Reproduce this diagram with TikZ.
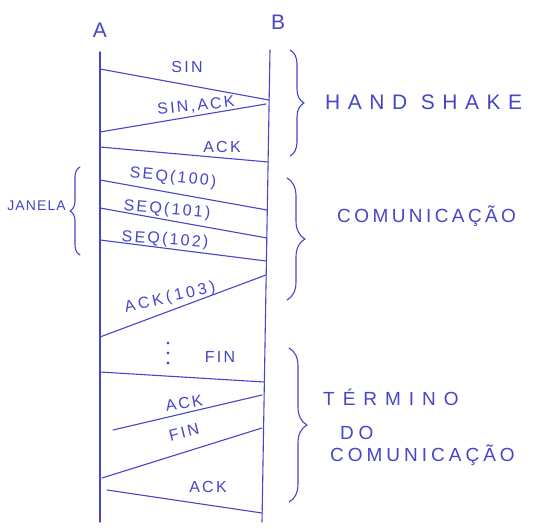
\documentclass[tikz,border=0pt]{standalone}
\usepackage{fontspec}
\setmainfont{Liberation Sans}
\usetikzlibrary{decorations.pathreplacing}
\definecolor{ink}{RGB}{70,70,200}
\tikzset{
  x=1pt, y=-1pt,
  ink/.style={draw=ink, line width=1.1pt, line cap=round, line join=round},
  msg/.style={ink},
  life/.style={ink},
  lbl/.style={text=ink, inner sep=0pt, font=\fontsize{16}{18}\selectfont\addfontfeatures{LetterSpace=14}},
  big/.style={text=ink, inner sep=0pt, anchor=west, font=\fontsize{19}{22}\selectfont\addfontfeatures{LetterSpace=#1}},
  rbrace/.style={ink, decorate, decoration={brace, amplitude=#1}},
}
\begin{document}
\begin{tikzpicture}
\useasboundingbox (0,0) rectangle (548,529);
\fill[white] (0,0) rectangle (548,529);
% participants
\node[text=ink, font=\fontsize{21}{23}\selectfont] (A) at (100,30) {A};
\node[text=ink, font=\fontsize{21}{23}\selectfont] (B) at (278,22) {B};
\coordinate (Atop) at (100,52);
\coordinate (Abot) at (100,522);
\coordinate (Btop) at (270,50);
\coordinate (Bbot) at (262,522);
\draw[life] (Atop) -- (Abot);
\draw[life] (Btop) -- (Bbot);
% handshake
\coordinate (a1) at (100,69);  \coordinate (b1) at (269,100);
\coordinate (b2) at (266,104); \coordinate (a2) at (100,132);
\coordinate (a3) at (100,147); \coordinate (b3) at (268,162);
\draw[msg] (a1) -- (b1);
\draw[msg] (b2) -- (a2);
\draw[msg] (a3) -- (b3);
\node[lbl] (l1) at (187,67) {SIN};
\node[lbl, rotate=6] (l2) at (196,106) {SIN,ACK};
\node[lbl] (l3) at (222,147) {ACK};
% data
\coordinate (a4) at (100,180); \coordinate (b4) at (267,210);
\coordinate (a5) at (100,208); \coordinate (b5) at (267,238);
\coordinate (a6) at (100,240); \coordinate (b6) at (266,261);
\coordinate (b7) at (266,275); \coordinate (a7) at (100,337);
\draw[msg] (a4) -- (b4);
\draw[msg] (a5) -- (b5);
\draw[msg] (a6) -- (b6);
\draw[msg] (b7) -- (a7);
\node[lbl, rotate=-6] (l4) at (173,178) {SEQ(100)};
\node[lbl, rotate=-5] (l5) at (167,210) {SEQ(101)};
\node[lbl, rotate=-4] (l6) at (165,240) {SEQ(102)};
\node[lbl, rotate=13, font=\fontsize{16}{18}\selectfont\addfontfeatures{LetterSpace=20}] (l7) at (170,298) {ACK(103)};
% dots
\foreach \yy in {343,353,363} \fill[ink] (168,\yy) circle (0.9);
% termination
\coordinate (a9) at (100,372);  \coordinate (b9) at (264,382);
\coordinate (b10) at (262,395); \coordinate (a10) at (113,430);
\coordinate (b11) at (262,428); \coordinate (a11) at (102,478);
\coordinate (a12) at (107,490); \coordinate (b12) at (262,513);
\draw[msg] (a9) -- (b9);
\draw[msg] (b10) -- (a10);
\draw[msg] (b11) -- (a11);
\draw[msg] (a12) -- (b12);
\node[lbl] (l9) at (220,357) {FIN};
\node[lbl, rotate=10] (l10) at (184,403) {ACK};
\node[lbl, rotate=14] (l11) at (184,432) {FIN};
\node[lbl] (l12) at (208,487) {ACK};
% braces
\draw[rbrace=14] (290,50) -- (290,156);
\draw[rbrace=18] (287,178) -- (287,300);
\draw[rbrace=10] (80,255) -- (80,167);
\draw[rbrace=18] (289,348) -- (289,502);
\node[big=32, font=\fontsize{21}{24}\selectfont\addfontfeatures{LetterSpace=36}] (hs) at (325,102) {HAND SHAKE};
\node[big=18] (co) at (337,216) {COMUNICAÇÃO};
\node[text=ink, inner sep=0pt, anchor=east, font=\fontsize{14}{16}\selectfont\addfontfeatures{LetterSpace=8}] (ja) at (66,206) {JANELA};
\node[big=42] (t1) at (323,397) {TÉRMINO};
\node[big=25] (t2) at (340,433) {DO};
\node[big=21] (t3) at (330,455) {COMUNICAÇÃO};
\end{tikzpicture}
\end{document}
